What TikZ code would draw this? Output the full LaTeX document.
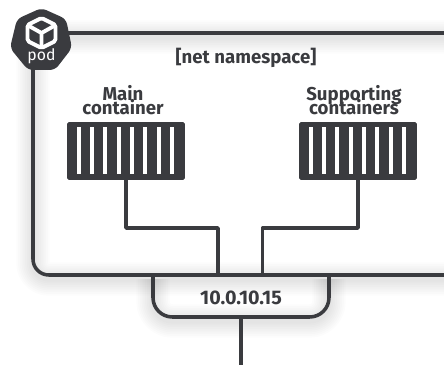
\documentclass[tikz,border=0pt]{standalone}
\usepackage{fontspec}
\setmainfont{Fira Sans}
\usepackage{tikz}
\usetikzlibrary{calc}
\definecolor{inkgrey}{HTML}{3A3B3F}
\newcommand{\captionfont}{\bfseries\fontsize{10.6pt}{8pt}\selectfont\lineskiplimit -6pt\relax}
\tikzset{
	wire/.style={color=inkgrey,line width=2pt},
	containerbox/.style={fill=inkgrey,rounded corners=1pt,minimum width=67pt,minimum height=33pt,inner sep=0pt},
	caption/.style={color=inkgrey,align=center,font=\captionfont},
	softshadow/.style={color=black,opacity=0.01,line width=#1}
}
\begin{document}
\begin{tikzpicture}[line cap=butt,line join=round,x=0.02cm,y=-0.02cm]
	\useasboundingbox (0,0) rectangle (444,365);
	\fill[white] (0,0) rectangle (444,365);
	% shadows first
	\foreach \w in {3,5,...,19} {
		\draw[softshadow=\w pt,rounded corners=9pt] (33,37) rectangle (470,279);
		\draw[softshadow=\w pt,rounded corners=11pt] (153,279) -- (153,321) -- (329,321) -- (329,279);
	}
	% pod box
	\draw[wire,rounded corners=9pt] (33,33) rectangle (470,275);
	\draw[wire,rounded corners=11pt] (153,275) -- (153,317) -- (329,317) -- (329,275);
	\node[font=\bfseries\fontsize{10.6pt}{12pt}\selectfont,color=inkgrey] (netns) at (246,58) {[net namespace]};
	\node[font=\bfseries\fontsize{11.2pt}{12pt}\selectfont,color=inkgrey] (ipaddr) at (241,298) {10.0.10.15};
	% containers
	\node[containerbox] (maincontainer) at (126,151) {};
	\node[containerbox] (supportcontainer) at (358,151) {};
	\foreach \bar in {0,...,7} {
		\fill[white] ($(maincontainer.west)+(10+13.33*\bar,-23.5)$) rectangle +(4,47);
		\fill[white] ($(supportcontainer.west)+(10+13.33*\bar,-23.5)$) rectangle +(4,47);
	}
	\node[caption,anchor=south] (maincaption) at (123,121) {Main\\container};
	\node[caption,anchor=south] (supportcaption) at (354,121) {Supporting\\containers};
	% wires
	\coordinate (ipleft) at (218,275);
	\coordinate (ipright) at (262.5,275);
	\coordinate (ipbottom) at (241,317);
	\coordinate (netout) at (241,365);
	\draw[wire] (maincontainer.south) |- (ipleft |- 0,228) -- (ipleft);
	\draw[wire] (supportcontainer.south) |- (ipright |- 0,228) -- (ipright);
	\draw[wire] (ipbottom) -- (netout);
	% pod badge
	\fill[inkgrey,rounded corners=3pt] (41.5,8) -- (66,19) -- (72,48) -- (55,70) -- (28,70) -- (10,48) -- (17,19) -- cycle;
	\draw[white,line width=2.2pt,rounded corners=1pt] (41.5,18) -- (55.5,25) -- (55.5,41) -- (41.5,48) -- (27.5,41) -- (27.5,25) -- cycle;
	\draw[white,line width=2.2pt] (29,26) -- (41.5,33) -- (54,26) (41.5,33) -- (41.5,47);
	\node[white,font=\fontsize{9pt}{10pt}\selectfont] (podlabel) at (41.5,56) {pod};
\end{tikzpicture}
\end{document}
